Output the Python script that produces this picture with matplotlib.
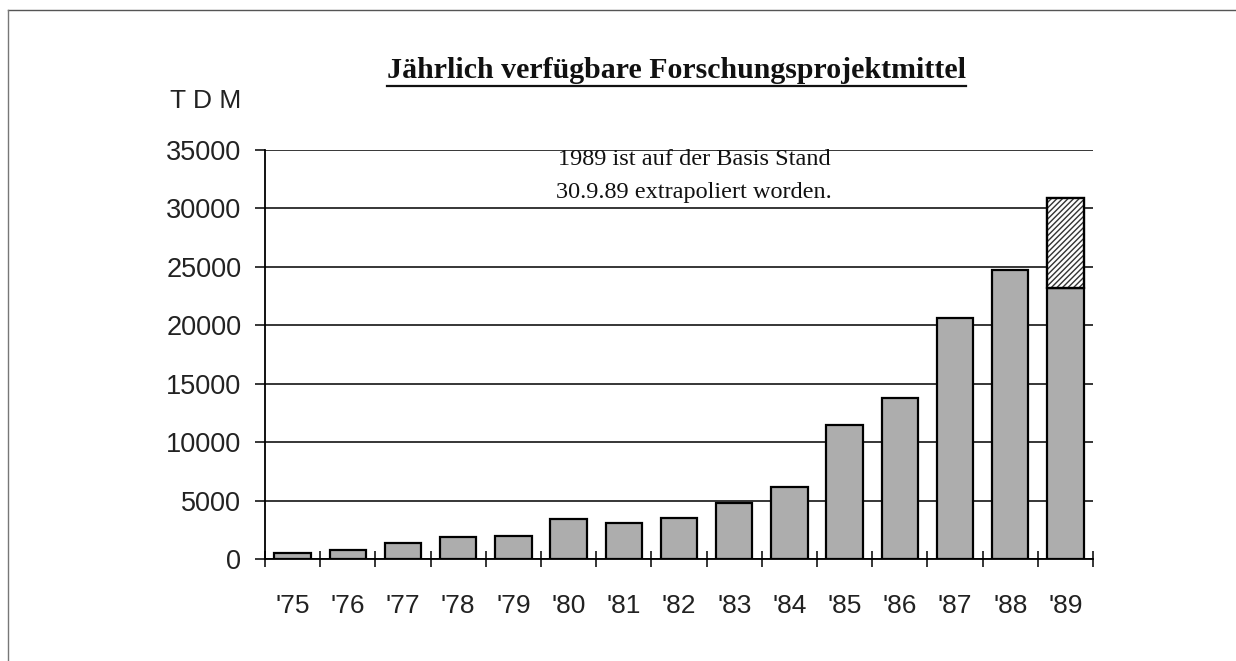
import matplotlib
matplotlib.use("Agg")
import matplotlib.pyplot as plt
from matplotlib.lines import Line2D
import numpy as np

# ---- data ----
years = ["'75", "'76", "'77", "'78", "'79", "'80", "'81", "'82",
         "'83", "'84", "'85", "'86", "'87", "'88", "'89"]
funds = [550, 780, 1350, 1850, 1950, 3400, 3100, 3500,
         4800, 6200, 11500, 13800, 20600, 24700, 23200]
extrapolated = [0, 0, 0, 0, 0, 0, 0, 0, 0, 0, 0, 0, 0, 0, 7700]
yticks = [0, 5000, 10000, 15000, 20000, 25000, 30000, 35000]

title = "Jährlich verfügbare Forschungsprojektmittel"
unit = "T D M"
note = "1989 ist auf der Basis Stand\n30.9.89 extrapoliert worden."

fig = plt.figure(figsize=(12.36, 6.61), dpi=100)
ax = fig.add_axes([265/1236, 1-559/661, (1093-265)/1236, 409/661])

x = np.arange(len(years))
bar_color = "#adadad"
ax.bar(x, funds, width=0.66, color=bar_color, edgecolor="black", linewidth=1.6, zorder=3)
ext = np.array(extrapolated)
mask = ext > 0
ax.bar(x[mask], ext[mask], bottom=np.array(funds)[mask], width=0.66, color="white",
       edgecolor="#333333", hatch="//////", linewidth=1.6, zorder=3)
ax.bar(x[mask], ext[mask], bottom=np.array(funds)[mask], width=0.66, fill=False,
       edgecolor="black", linewidth=1.6, zorder=4)

ax.set_xlim(-0.5, len(years) - 0.5)
ax.set_ylim(0, 35000)
ax.set_yticks(yticks)
ax.set_yticklabels([str(v) for v in yticks], fontfamily="Liberation Sans", fontsize=19.5, color="#222222")
ax.yaxis.grid(True, color="black", linewidth=1.1, zorder=0)
ax.set_axisbelow(True)
ax.tick_params(axis="y", direction="out", length=7, width=1.1, pad=10)

ax.set_xticks(x)
ax.set_xticklabels(years, fontfamily="Liberation Sans", fontsize=19, color="#222222")
ax.tick_params(axis="x", which="major", length=0, pad=25)
ax.set_xticks(np.arange(-0.5, len(years)), minor=True)
ax.tick_params(axis="x", which="minor", direction="inout", length=12, width=1.1)

for s in ["top", "right"]:
    ax.spines[s].set_visible(False)
for s in ["left", "bottom"]:
    ax.spines[s].set_linewidth(1.3)

# unit label
fig.text(170/1236, 1-101/661, unit, fontfamily="Liberation Sans", fontsize=19,
         ha="left", va="center", color="#222222")

# title with underline
t = fig.text(676/1236, 1-71/661, title, fontfamily="Liberation Serif", fontweight="bold",
             fontsize=21.5, ha="center", va="center", color="#111111")
fig.canvas.draw()
bb = t.get_window_extent()
fig.add_artist(Line2D([bb.x0/1236, bb.x1/1236], [(bb.y0 - 1)/661, (bb.y0 - 1)/661],
                      transform=fig.transFigure, color="#111111", linewidth=1.6))

# note
fig.text(694/1236, 1-176/661, note, fontfamily="Liberation Serif", fontsize=17.5,
         ha="center", va="center", linespacing=1.8, color="#111111")

# scan frame
fig.add_artist(Line2D([8/1236, 1.0], [1-10/661, 1-10/661], transform=fig.transFigure,
                      color="#555555", linewidth=1.0))
fig.add_artist(Line2D([8/1236, 8/1236], [0, 1-10/661], transform=fig.transFigure,
                      color="#777777", linewidth=1.0))

fig.savefig("out.png", dpi=100)
